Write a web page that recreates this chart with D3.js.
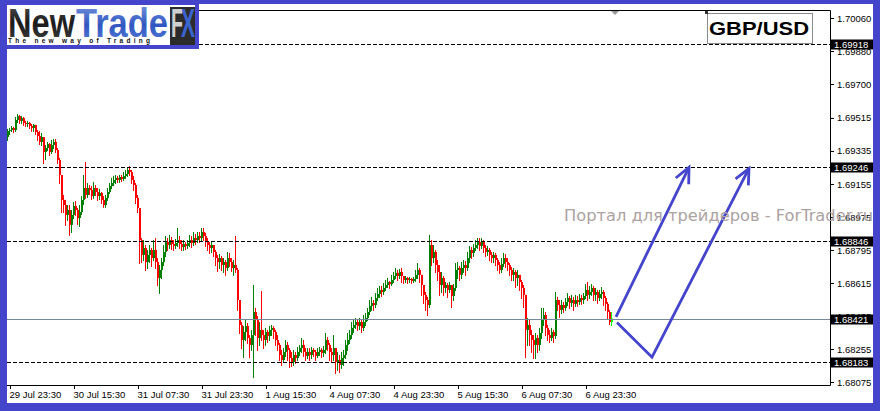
<!DOCTYPE html>
<html><head><meta charset="utf-8">
<script src="https://cdn.jsdelivr.net/npm/d3@7"></script>
<style>html,body{margin:0;padding:0;background:#fff;overflow:hidden}</style>
</head><body><svg id="c" width="880" height="411"></svg>
<script>
const symbol = "GBP/USD";
const watermark = "Портал для трейдеров - ForTrader.ru";
const firstOpen = 1.69411;
const closes = [
1.69444,1.69449,1.69460,1.69449,1.69504,1.69525,1.69499,1.69514,1.69488,1.69482,
1.69488,1.69471,1.69460,1.69477,1.69438,1.69416,1.69384,1.69411,1.69329,1.69351,
1.69373,1.69329,1.69367,1.69384,1.69340,1.69286,1.69204,1.69068,1.69040,1.68986,
1.69013,1.68932,1.68986,1.69035,1.69013,1.68969,1.69002,1.69068,1.69133,1.69095,
1.69133,1.69122,1.69089,1.69133,1.69111,1.69089,1.69106,1.69068,1.69040,1.69079,
1.69111,1.69144,1.69160,1.69177,1.69188,1.69177,1.69193,1.69182,1.69199,1.69209,
1.69231,1.69220,1.69177,1.69149,1.69079,1.69024,1.68849,1.68768,1.68806,1.68729,
1.68768,1.68795,1.68751,1.68795,1.68729,1.68642,1.68686,1.68729,1.68784,1.68838,
1.68822,1.68849,1.68827,1.68817,1.68833,1.68849,1.68827,1.68811,1.68827,1.68817,
1.68833,1.68849,1.68833,1.68860,1.68849,1.68871,1.68860,1.68893,1.68871,1.68838,
1.68822,1.68806,1.68822,1.68784,1.68751,1.68729,1.68751,1.68713,1.68729,1.68697,
1.68751,1.68729,1.68697,1.68713,1.68686,1.68522,1.68386,1.68304,1.68348,1.68380,
1.68315,1.68277,1.68331,1.68457,1.68413,1.68315,1.68359,1.68331,1.68304,1.68348,
1.68326,1.68359,1.68370,1.68348,1.68304,1.68277,1.68222,1.68195,1.68239,1.68277,
1.68250,1.68206,1.68184,1.68222,1.68206,1.68239,1.68260,1.68277,1.68239,1.68217,
1.68239,1.68222,1.68250,1.68239,1.68217,1.68239,1.68250,1.68233,1.68250,1.68304,
1.68277,1.68239,1.68222,1.68260,1.68184,1.68195,1.68168,1.68206,1.68222,1.68277,
1.68304,1.68331,1.68370,1.68386,1.68402,1.68380,1.68402,1.68370,1.68402,1.68424,
1.68457,1.68490,1.68506,1.68495,1.68533,1.68555,1.68577,1.68566,1.68588,1.68604,
1.68620,1.68609,1.68631,1.68653,1.68670,1.68653,1.68675,1.68653,1.68631,1.68642,
1.68631,1.68637,1.68626,1.68637,1.68659,1.68686,1.68659,1.68604,1.68550,1.68522,
1.68495,1.68822,1.68751,1.68784,1.68713,1.68675,1.68604,1.68642,1.68588,1.68604,
1.68577,1.68604,1.68544,1.68588,1.68686,1.68697,1.68659,1.68697,1.68713,1.68697,
1.68751,1.68795,1.68779,1.68806,1.68822,1.68838,1.68817,1.68838,1.68806,1.68784,
1.68795,1.68768,1.68751,1.68768,1.68740,1.68713,1.68686,1.68719,1.68751,1.68729,
1.68713,1.68686,1.68659,1.68675,1.68642,1.68659,1.68620,1.68588,1.68550,1.68359,
1.68386,1.68331,1.68304,1.68277,1.68315,1.68277,1.68342,1.68413,1.68440,1.68370,
1.68331,1.68315,1.68348,1.68326,1.68522,1.68495,1.68468,1.68495,1.68479,1.68511,
1.68533,1.68506,1.68522,1.68501,1.68522,1.68511,1.68533,1.68522,1.68544,1.68577,
1.68550,1.68566,1.68588,1.68550,1.68566,1.68533,1.68555,1.68566,1.68533,1.68501,
1.68457,1.68402,1.68421];
const highs = [
1.69455,1.69460,1.69471,1.69466,1.69520,1.69536,1.69531,1.69525,1.69520,1.69499,
1.69499,1.69493,1.69482,1.69482,1.69477,1.69449,1.69444,1.69433,1.69411,1.69367,
1.69384,1.69378,1.69395,1.69400,1.69400,1.69351,1.69297,1.69204,1.69095,1.69068,
1.69040,1.69040,1.69013,1.69057,1.69062,1.69024,1.69040,1.69089,1.69204,1.69275,
1.69160,1.69149,1.69144,1.69166,1.69149,1.69133,1.69128,1.69111,1.69089,1.69095,
1.69133,1.69160,1.69188,1.69199,1.69204,1.69199,1.69204,1.69204,1.69220,1.69231,
1.69247,1.69253,1.69231,1.69199,1.69160,1.69095,1.69013,1.68860,1.68849,1.68822,
1.68795,1.68822,1.68806,1.68849,1.68860,1.68751,1.68713,1.68751,1.68822,1.68871,
1.68860,1.68877,1.68866,1.68849,1.68855,1.68915,1.68871,1.68849,1.68849,1.68838,
1.68849,1.68877,1.68871,1.68893,1.68882,1.68893,1.68893,1.68915,1.68915,1.68888,
1.68860,1.68838,1.68844,1.68822,1.68795,1.68768,1.68773,1.68762,1.68751,1.68740,
1.68784,1.68779,1.68751,1.68740,1.68871,1.68697,1.68522,1.68402,1.68380,1.68413,
1.68397,1.68331,1.68359,1.68604,1.68479,1.68435,1.68402,1.68571,1.68359,1.68370,
1.68359,1.68380,1.68386,1.68380,1.68359,1.68331,1.68288,1.68250,1.68260,1.68304,
1.68293,1.68260,1.68239,1.68250,1.68239,1.68266,1.68277,1.68315,1.68304,1.68260,
1.68260,1.68260,1.68266,1.68260,1.68250,1.68260,1.68266,1.68260,1.68271,1.68342,
1.68320,1.68288,1.68260,1.68331,1.68260,1.68239,1.68222,1.68239,1.68250,1.68304,
1.68342,1.68359,1.68402,1.68413,1.68424,1.68413,1.68424,1.68413,1.68440,1.68451,
1.68479,1.68522,1.68539,1.68522,1.68560,1.68588,1.68599,1.68599,1.68615,1.68631,
1.68642,1.68626,1.68659,1.68675,1.68697,1.68686,1.68691,1.68697,1.68653,1.68653,
1.68648,1.68648,1.68642,1.68648,1.68686,1.68724,1.68697,1.68659,1.68604,1.68566,
1.68539,1.68877,1.68849,1.68822,1.68795,1.68740,1.68713,1.68675,1.68653,1.68620,
1.68615,1.68620,1.68604,1.68609,1.68724,1.68729,1.68708,1.68729,1.68740,1.68735,
1.68784,1.68817,1.68811,1.68827,1.68849,1.68860,1.68860,1.68860,1.68849,1.68822,
1.68817,1.68806,1.68784,1.68784,1.68779,1.68751,1.68729,1.68751,1.68779,1.68773,
1.68751,1.68724,1.68702,1.68697,1.68686,1.68686,1.68659,1.68631,1.68604,1.68522,
1.68424,1.68413,1.68359,1.68331,1.68342,1.68331,1.68370,1.68479,1.68479,1.68457,
1.68386,1.68359,1.68370,1.68359,1.68566,1.68539,1.68522,1.68522,1.68511,1.68533,
1.68560,1.68544,1.68550,1.68539,1.68550,1.68544,1.68555,1.68550,1.68560,1.68609,
1.68620,1.68599,1.68609,1.68599,1.68588,1.68577,1.68577,1.68593,1.68577,1.68544,
1.68511,1.68468,1.68457];
const lows = [
1.69395,1.69427,1.69444,1.69438,1.69444,1.69493,1.69488,1.69488,1.69477,1.69471,
1.69471,1.69460,1.69444,1.69444,1.69427,1.69395,1.69373,1.69367,1.69269,1.69291,
1.69340,1.69313,1.69324,1.69351,1.69329,1.69269,1.69160,1.69002,1.69002,1.68932,
1.68959,1.68877,1.68893,1.68969,1.68986,1.68937,1.68926,1.68991,1.69046,1.69079,
1.69084,1.69100,1.69073,1.69079,1.69095,1.69068,1.69073,1.69051,1.69030,1.69030,
1.69068,1.69106,1.69133,1.69149,1.69160,1.69166,1.69166,1.69171,1.69177,1.69188,
1.69199,1.69204,1.69160,1.69122,1.69051,1.69002,1.68724,1.68729,1.68740,1.68686,
1.68697,1.68729,1.68708,1.68740,1.68697,1.68604,1.68561,1.68642,1.68713,1.68762,
1.68795,1.68806,1.68800,1.68795,1.68806,1.68817,1.68806,1.68795,1.68795,1.68800,
1.68806,1.68817,1.68811,1.68822,1.68827,1.68838,1.68838,1.68849,1.68849,1.68817,
1.68795,1.68779,1.68784,1.68762,1.68713,1.68680,1.68697,1.68686,1.68675,1.68659,
1.68686,1.68708,1.68680,1.68659,1.68675,1.68468,1.68342,1.68260,1.68211,1.68304,
1.68288,1.68211,1.68250,1.68102,1.68331,1.68250,1.68277,1.68304,1.68260,1.68277,
1.68293,1.68304,1.68331,1.68315,1.68277,1.68250,1.68195,1.68168,1.68184,1.68217,
1.68195,1.68157,1.68162,1.68168,1.68179,1.68195,1.68222,1.68239,1.68217,1.68195,
1.68206,1.68195,1.68206,1.68217,1.68195,1.68211,1.68222,1.68211,1.68217,1.68233,
1.68250,1.68195,1.68184,1.68195,1.68124,1.68141,1.68130,1.68152,1.68168,1.68206,
1.68250,1.68288,1.68315,1.68348,1.68370,1.68359,1.68364,1.68348,1.68359,1.68386,
1.68413,1.68446,1.68468,1.68468,1.68484,1.68522,1.68539,1.68544,1.68555,1.68577,
1.68593,1.68588,1.68604,1.68620,1.68642,1.68631,1.68642,1.68620,1.68615,1.68620,
1.68615,1.68620,1.68615,1.68620,1.68626,1.68642,1.68620,1.68550,1.68506,1.68468,
1.68440,1.68484,1.68713,1.68729,1.68675,1.68631,1.68550,1.68566,1.68550,1.68566,
1.68539,1.68566,1.68484,1.68522,1.68577,1.68642,1.68631,1.68642,1.68675,1.68659,
1.68686,1.68729,1.68751,1.68762,1.68795,1.68806,1.68795,1.68806,1.68784,1.68762,
1.68768,1.68740,1.68729,1.68729,1.68713,1.68686,1.68670,1.68675,1.68708,1.68702,
1.68686,1.68659,1.68631,1.68631,1.68593,1.68604,1.68577,1.68533,1.68484,1.68211,
1.68277,1.68277,1.68239,1.68206,1.68206,1.68239,1.68250,1.68315,1.68386,1.68331,
1.68304,1.68293,1.68304,1.68293,1.68315,1.68468,1.68430,1.68451,1.68457,1.68468,
1.68495,1.68479,1.68490,1.68468,1.68490,1.68490,1.68501,1.68501,1.68506,1.68533,
1.68522,1.68533,1.68550,1.68522,1.68522,1.68506,1.68522,1.68533,1.68495,1.68468,
1.68424,1.68391,1.68386];
const priceTicks = [1.70060,1.69880,1.69700,1.69515,1.69335,1.69155,1.68975,1.68795,1.68615,1.68435,1.68255,1.68075];
const timeLabels = ["29 Jul 23:30","30 Jul 15:30","31 Jul 07:30","31 Jul 23:30","1 Aug 15:30","4 Aug 07:30","4 Aug 23:30","5 Aug 15:30","6 Aug 07:30","6 Aug 23:30"];
const timeLabelBars = [1,33,65,97,129,161,193,225,257,289];
const levels = [1.69918,1.69246,1.68846,1.68183];
const bidPrice = 1.68421;
const arrowUp = [[304,1.68430],[340.5,1.69246]];
const arrowDownUp = [[304.5,1.68400],[322,1.68210],[370.5,1.69240]];

const W = 880, H = 411;
const PL = 7, PT = 10, PR = 830, PB = 385;
const BLUE = "#4545cb";
const FONT = "'Liberation Sans', Arial, sans-serif";

const svg = d3.select("#c");
const x = d3.scaleLinear().domain([0, 302]).range([8, 612]);
const y = d3.scaleLinear().domain([1.68075, 1.70060]).range([382, 18]);

svg.append("rect").attr("width", W).attr("height", H).attr("fill", "#fff");

svg.append("defs").append("clipPath").attr("id", "plot")
  .append("rect").attr("x", PL).attr("y", PT + 1).attr("width", PR - PL).attr("height", PB - PT - 1);

const bars = closes.map((c, i) => {
  const o = i === 0 ? firstOpen : closes[i - 1];
  return {i, o, c, h: Math.max(highs[i], o, c), l: Math.min(lows[i], o, c)};
});

const gBars = svg.append("g").attr("clip-path", "url(#plot)");
const colorOf = d => d.i === bars.length - 1 ? "#00ff00" : (d.c >= d.o ? "#008000" : "#ff0000");
gBars.selectAll("line.w").data(bars).join("line")
  .attr("x1", d => Math.round(x(d.i)) - 0.5).attr("x2", d => Math.round(x(d.i)) - 0.5)
  .attr("y1", d => y(d.h)).attr("y2", d => y(d.l) + 1)
  .attr("stroke", colorOf).attr("stroke-width", 1);
gBars.selectAll("rect.b").data(bars).join("rect")
  .attr("x", d => Math.round(x(d.i)) - 1).attr("width", 2)
  .attr("y", d => Math.min(y(d.o), y(d.c)))
  .attr("height", d => Math.max(1, Math.abs(y(d.o) - y(d.c))))
  .attr("fill", colorOf);

const gLv = svg.append("g");
gLv.selectAll("line").data(levels).join("line")
  .attr("x1", PL).attr("x2", PR)
  .attr("y1", d => Math.round(y(d)) + 0.5).attr("y2", d => Math.round(y(d)) + 0.5)
  .attr("stroke", "#000").attr("stroke-width", 1).attr("stroke-dasharray", "4,2");
gLv.append("line").attr("x1", PL).attr("x2", PR)
  .attr("y1", Math.round(y(bidPrice)) + 0.5).attr("y2", Math.round(y(bidPrice)) + 0.5)
  .attr("stroke", "#778899").attr("stroke-width", 1);

const line = d3.line().x(d => x(d[0])).y(d => y(d[1]));
function head(pts) {
  const a = pts[pts.length - 2], b = pts[pts.length - 1];
  const ax = x(a[0]), ay = y(a[1]), bx = x(b[0]), by = y(b[1]);
  const ang = Math.atan2(ay - by, ax - bx);
  const L = 17, s = 25 * Math.PI / 180;
  return `M${bx + L * Math.cos(ang - s)},${by + L * Math.sin(ang - s)}L${bx},${by}L${bx + L * Math.cos(ang + s)},${by + L * Math.sin(ang + s)}`;
}
[arrowUp, arrowDownUp].forEach(p => {
  svg.append("path").attr("d", line(p)).attr("fill", "none").attr("stroke", "#4444cc")
    .attr("stroke-width", 2.8).attr("stroke-linejoin", "miter");
  svg.append("path").attr("d", head(p)).attr("fill", "none").attr("stroke", "#4444cc")
    .attr("stroke-width", 2.8);
});

svg.append("path").attr("d", `M${PL},${PT + 0.5}H${PR + 0.5}V${PB + 0.5}H${PL}`)
  .attr("fill", "none").attr("stroke", "#000").attr("stroke-width", 1);

svg.append("path").attr("d", "M611,11L619,11L615,15Z").attr("fill", "#999");

const ay = svg.append("g").attr("transform", `translate(${PR},0)`)
  .call(d3.axisRight(y).tickValues(priceTicks).tickSize(4).tickPadding(3).tickFormat(d3.format(".5f")));
ay.select(".domain").remove();
ay.selectAll("line").attr("stroke", "#000");
ay.selectAll("text").attr("font-family", FONT).attr("font-size", "9.5px").attr("fill", "#000");

const ax = svg.append("g").attr("transform", `translate(0,${PB})`)
  .call(d3.axisBottom(x).tickValues(timeLabelBars).tickSize(4).tickFormat((d, i) => timeLabels[i]));
ax.select(".domain").remove();
ax.selectAll("line").attr("stroke", "#000");
ax.selectAll("text").attr("font-family", FONT).attr("font-size", "9.5px").attr("fill", "#000")
  .attr("text-anchor", "start").attr("x", -1).attr("y", 13).attr("dy", null);

const boxes = levels.concat([bidPrice]);
const gB = svg.append("g");
boxes.forEach(v => {
  const yy = Math.round(y(v));
  gB.append("rect").attr("x", PR + 1).attr("y", yy - 4.5).attr("width", 873 - PR - 1).attr("height", 10).attr("fill", "#000");
  gB.append("text").attr("x", PR + 4).attr("y", yy + 4).text(d3.format(".5f")(v))
    .attr("font-family", FONT).attr("font-size", "9.5px").attr("fill", "#fff");
});

svg.append("text").attr("x", 564).attr("y", 221).text(watermark)
  .attr("font-family", "'DejaVu Sans', sans-serif").attr("font-size", "15px")
  .attr("fill", "#aca2a2").attr("textLength", 309).attr("lengthAdjust", "spacingAndGlyphs");

svg.append("rect").attr("x", 707.5).attr("y", 13.5).attr("width", 105).attr("height", 30)
  .attr("fill", "none").attr("stroke", "#8a8a8a");
svg.append("rect").attr("x", 705).attr("y", 11).attr("width", 3).attr("height", 3).attr("fill", "#333");
svg.append("text").attr("x", 709).attr("y", 35).text(symbol)
  .attr("font-family", FONT).attr("font-weight", "bold").attr("font-size", "19px")
  .attr("fill", "#000").attr("textLength", 100).attr("lengthAdjust", "spacingAndGlyphs");

svg.append("rect").attr("x", 0).attr("y", 0).attr("width", W).attr("height", 4).attr("fill", BLUE);
svg.append("rect").attr("x", 0).attr("y", 0).attr("width", 7).attr("height", H).attr("fill", BLUE);
svg.append("rect").attr("x", 873).attr("y", 0).attr("width", 7).attr("height", H).attr("fill", BLUE);
svg.append("rect").attr("x", 0).attr("y", 403).attr("width", W).attr("height", 8).attr("fill", BLUE);

const defs = svg.select("defs");
const g1 = defs.append("linearGradient").attr("id", "gNew").attr("x1", 0).attr("y1", 0).attr("x2", 0).attr("y2", 1);
g1.append("stop").attr("offset", "0%").attr("stop-color", "#555");
g1.append("stop").attr("offset", "50%").attr("stop-color", "#1a1a1a");
g1.append("stop").attr("offset", "100%").attr("stop-color", "#444");
const g2 = defs.append("linearGradient").attr("id", "gTrade").attr("x1", 0).attr("y1", 0).attr("x2", 0).attr("y2", 1);
g2.append("stop").attr("offset", "0%").attr("stop-color", "#7d9be0");
g2.append("stop").attr("offset", "55%").attr("stop-color", "#2f57c0");
g2.append("stop").attr("offset", "100%").attr("stop-color", "#5a7fd8");
const logo = svg.append("g");
logo.append("rect").attr("x", 0).attr("y", 0).attr("width", 199).attr("height", 49).attr("fill", BLUE);
logo.append("rect").attr("x", 7).attr("y", 5).attr("width", 188).attr("height", 40).attr("fill", "#fff");
logo.append("text").attr("x", 8).attr("y", 37).text("New").attr("font-family", FONT).attr("font-weight", "bold")
  .attr("font-size", "40px").attr("fill", "url(#gNew)").attr("textLength", 67).attr("lengthAdjust", "spacingAndGlyphs");
logo.append("text").attr("x", 76).attr("y", 37).text("Trade").attr("font-family", FONT).attr("font-weight", "bold")
  .attr("font-size", "40px").attr("fill", "url(#gTrade)").attr("textLength", 92).attr("lengthAdjust", "spacingAndGlyphs");
logo.append("rect").attr("x", 170).attr("y", 7).attr("width", 25).attr("height", 38).attr("fill", "#2b2b2b");
logo.append("text").attr("x", 171).attr("y", 37).text("F").attr("font-family", FONT).attr("font-weight", "bold")
  .attr("font-size", "40px").attr("fill", "#cfcfcf").attr("textLength", 12).attr("lengthAdjust", "spacingAndGlyphs");
logo.append("text").attr("x", 181).attr("y", 37).text("X").attr("font-family", FONT).attr("font-weight", "bold")
  .attr("font-size", "40px").attr("fill", "#3a64d0").attr("textLength", 14).attr("lengthAdjust", "spacingAndGlyphs");
logo.append("text").attr("x", 8).attr("y", 43).text("The new way of Trading").attr("font-family", FONT)
  .attr("font-weight", "bold").attr("font-size", "6.5px").attr("fill", "#111")
  .attr("textLength", 142).attr("lengthAdjust", "spacing");
</script></body></html>
